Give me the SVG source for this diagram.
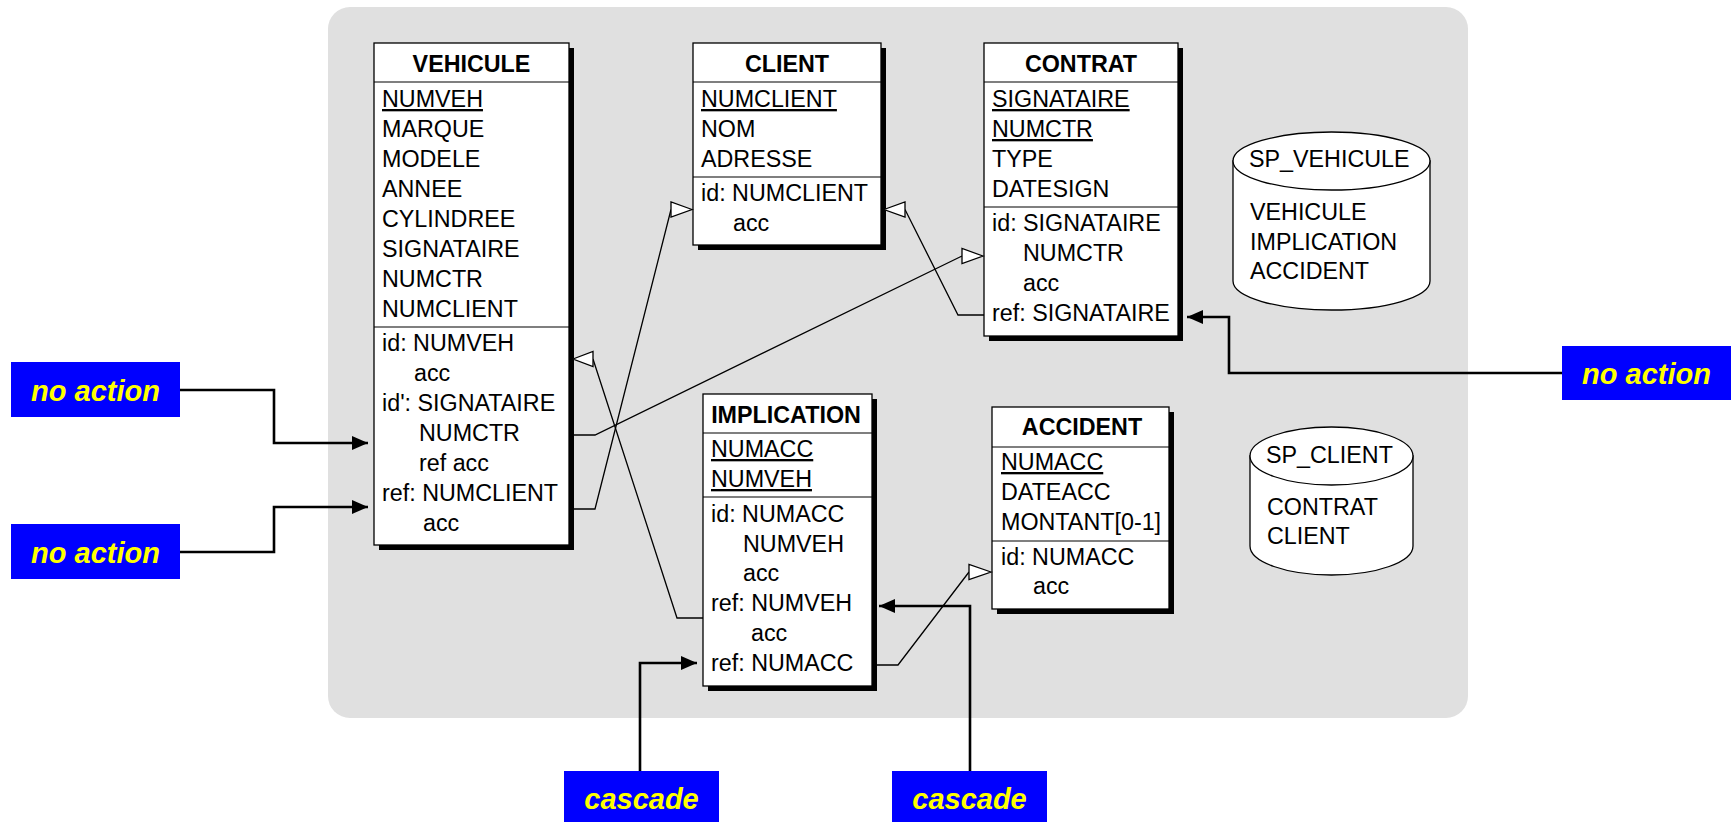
<svg xmlns="http://www.w3.org/2000/svg" width="1731" height="822" viewBox="0 0 1731 822">
  <style>
    text { font-family: "Liberation Sans", Arial, sans-serif; font-size: 23.3px; fill: #000; }
    .title { font-weight: bold; text-anchor: middle; }
    .pk { text-decoration: underline; }
    .box { fill: #fff; stroke: #000; stroke-width: 1.3; }
    .shadow { fill: #000; }
    .sep { stroke: #000; stroke-width: 1.2; }
    .cyl { fill: #fff; stroke: #000; stroke-width: 1.3; }
    .tag { fill: #0000ff; }
    .tagtxt { font-size: 29px; font-weight: bold; font-style: italic; fill: #ffff00; text-anchor: middle; }
    .fk { fill: none; stroke: #000; stroke-width: 1.3; }
    .tri { fill: #fff; stroke: #000; stroke-width: 1.3; }
    .act { fill: none; stroke: #000; stroke-width: 2.6; marker-end: url(#head); }
  </style>
  <defs>
    <marker id="head" markerUnits="userSpaceOnUse" markerWidth="17" markerHeight="15" refX="16" refY="7" orient="auto">
      <path d="M0,0 L16,7 L0,14 Z" fill="#000"/>
    </marker>
  </defs>

  <!-- schema background -->
  <rect x="328" y="7" width="1140" height="711" rx="22" ry="22" fill="#e0e0e0"/>

  <!-- VEHICULE -->
  <g id="vehicule">
    <rect class="shadow" x="379" y="48" width="195" height="502"/>
    <rect class="box" x="374" y="43" width="195" height="502"/>
    <line class="sep" x1="374" y1="82" x2="569" y2="82"/>
    <line class="sep" x1="374" y1="327" x2="569" y2="327"/>
    <text class="title" x="471.5" y="72">VEHICULE</text>
    <text class="pk" x="382" y="107">NUMVEH</text>
    <text x="382" y="137">MARQUE</text>
    <text x="382" y="167">MODELE</text>
    <text x="382" y="197">ANNEE</text>
    <text x="382" y="227">CYLINDREE</text>
    <text x="382" y="257">SIGNATAIRE</text>
    <text x="382" y="287">NUMCTR</text>
    <text x="382" y="317">NUMCLIENT</text>
    <text x="382" y="351">id: NUMVEH</text>
    <text x="414" y="381">acc</text>
    <text x="382" y="411">id': SIGNATAIRE</text>
    <text x="419" y="441">NUMCTR</text>
    <text x="419" y="471">ref acc</text>
    <text x="382" y="501">ref: NUMCLIENT</text>
    <text x="423" y="531">acc</text>
  </g>

  <!-- CLIENT -->
  <g id="client">
    <rect class="shadow" x="698" y="48" width="188" height="202"/>
    <rect class="box" x="693" y="43" width="188" height="202"/>
    <line class="sep" x1="693" y1="82" x2="881" y2="82"/>
    <line class="sep" x1="693" y1="177" x2="881" y2="177"/>
    <text class="title" x="787" y="72">CLIENT</text>
    <text class="pk" x="701" y="107">NUMCLIENT</text>
    <text x="701" y="137">NOM</text>
    <text x="701" y="167">ADRESSE</text>
    <text x="701" y="201">id: NUMCLIENT</text>
    <text x="733" y="231">acc</text>
  </g>

  <!-- CONTRAT -->
  <g id="contrat">
    <rect class="shadow" x="989" y="48" width="194" height="293"/>
    <rect class="box" x="984" y="43" width="194" height="293"/>
    <line class="sep" x1="984" y1="82" x2="1178" y2="82"/>
    <line class="sep" x1="984" y1="207" x2="1178" y2="207"/>
    <text class="title" x="1081" y="72">CONTRAT</text>
    <text class="pk" x="992" y="107">SIGNATAIRE</text>
    <text class="pk" x="992" y="137">NUMCTR</text>
    <text x="992" y="167">TYPE</text>
    <text x="992" y="197">DATESIGN</text>
    <text x="992" y="231">id: SIGNATAIRE</text>
    <text x="1023" y="261">NUMCTR</text>
    <text x="1023" y="291">acc</text>
    <text x="992" y="321">ref: SIGNATAIRE</text>
  </g>

  <!-- IMPLICATION -->
  <g id="implication">
    <rect class="shadow" x="708" y="399" width="169" height="292"/>
    <rect class="box" x="703" y="394" width="169" height="292"/>
    <line class="sep" x1="703" y1="433" x2="872" y2="433"/>
    <line class="sep" x1="703" y1="497" x2="872" y2="497"/>
    <text class="title" x="786" y="423">IMPLICATION</text>
    <text class="pk" x="711" y="457">NUMACC</text>
    <text class="pk" x="711" y="487">NUMVEH</text>
    <text x="711" y="522">id: NUMACC</text>
    <text x="743" y="552">NUMVEH</text>
    <text x="743" y="581">acc</text>
    <text x="711" y="611">ref: NUMVEH</text>
    <text x="751" y="641">acc</text>
    <text x="711" y="671">ref: NUMACC</text>
  </g>

  <!-- ACCIDENT -->
  <g id="accident">
    <rect class="shadow" x="997" y="412" width="177" height="202"/>
    <rect class="box" x="992" y="407" width="177" height="202"/>
    <line class="sep" x1="992" y1="447" x2="1169" y2="447"/>
    <line class="sep" x1="992" y1="541" x2="1169" y2="541"/>
    <text class="title" x="1082" y="435">ACCIDENT</text>
    <text class="pk" x="1001" y="470">NUMACC</text>
    <text x="1001" y="500">DATEACC</text>
    <text x="1001" y="530">MONTANT[0-1]</text>
    <text x="1001" y="565">id: NUMACC</text>
    <text x="1033" y="594">acc</text>
  </g>

  <!-- storage spaces -->
  <g id="sp_vehicule">
    <path class="cyl" d="M1233,161 L1233,281 A98.5,29 0 0 0 1430,281 L1430,161 Z"/>
    <ellipse class="cyl" cx="1331.5" cy="161" rx="98.5" ry="29"/>
    <text x="1249" y="167">SP_VEHICULE</text>
    <text x="1250" y="220">VEHICULE</text>
    <text x="1250" y="250">IMPLICATION</text>
    <text x="1250" y="279">ACCIDENT</text>
  </g>
  <g id="sp_client">
    <path class="cyl" d="M1250,456 L1250,546 A81.5,29 0 0 0 1413,546 L1413,456 Z"/>
    <ellipse class="cyl" cx="1331.5" cy="456" rx="81.5" ry="29"/>
    <text x="1266" y="463">SP_CLIENT</text>
    <text x="1267" y="515">CONTRAT</text>
    <text x="1267" y="544">CLIENT</text>
  </g>

  <!-- delete-rule tags -->
  <g id="tag_vehicule_id2">
    <rect class="tag" x="11" y="362" width="169" height="55"/>
    <text class="tagtxt" x="95.5" y="401">no action</text>
  </g>
  <g id="tag_vehicule_ref">
    <rect class="tag" x="11" y="524" width="169" height="55"/>
    <text class="tagtxt" x="95.5" y="563">no action</text>
  </g>
  <g id="tag_contrat_ref">
    <rect class="tag" x="1562" y="346" width="169" height="54"/>
    <text class="tagtxt" x="1646.5" y="384">no action</text>
  </g>
  <g id="tag_implication_numacc">
    <rect class="tag" x="564" y="771" width="155" height="55"/>
    <text class="tagtxt" x="641.5" y="809">cascade</text>
  </g>
  <g id="tag_implication_numveh">
    <rect class="tag" x="892" y="771" width="155" height="55"/>
    <text class="tagtxt" x="969.5" y="809">cascade</text>
  </g>

  <!-- connectors -->
  <g id="connectors">
    <!-- foreign keys -->
    <polyline class="fk" points="573,509 595,509 671,209.5"/>
    <polygon class="tri" points="692,209.5 671,202 671,217"/>
    <polyline class="fk" points="573,435 595,435 962,256"/>
    <polygon class="tri" points="983,256 962,248.5 962,263.5"/>
    <polyline class="fk" points="984,315 958,315 905,209.5"/>
    <polygon class="tri" points="884,209.5 905,202 905,217"/>
    <polyline class="fk" points="703,618 677,618 593,359"/>
    <polygon class="tri" points="573,359 593,351.5 593,366.5"/>
    <polyline class="fk" points="877,665 898,665 969,572"/>
    <polygon class="tri" points="991,572 969,564.5 969,579.5"/>
    <!-- delete-rule links -->
    <polyline class="act" points="180,390 274,390 274,443 368,443"/>
    <polyline class="act" points="180,552 274,552 274,507 368,507"/>
    <polyline class="act" points="1562,373 1229,373 1229,317 1187,317"/>
    <polyline class="act" points="640,771 640,663 697,663"/>
    <polyline class="act" points="970,771 970,606 879,606"/>
  </g>
</svg>
